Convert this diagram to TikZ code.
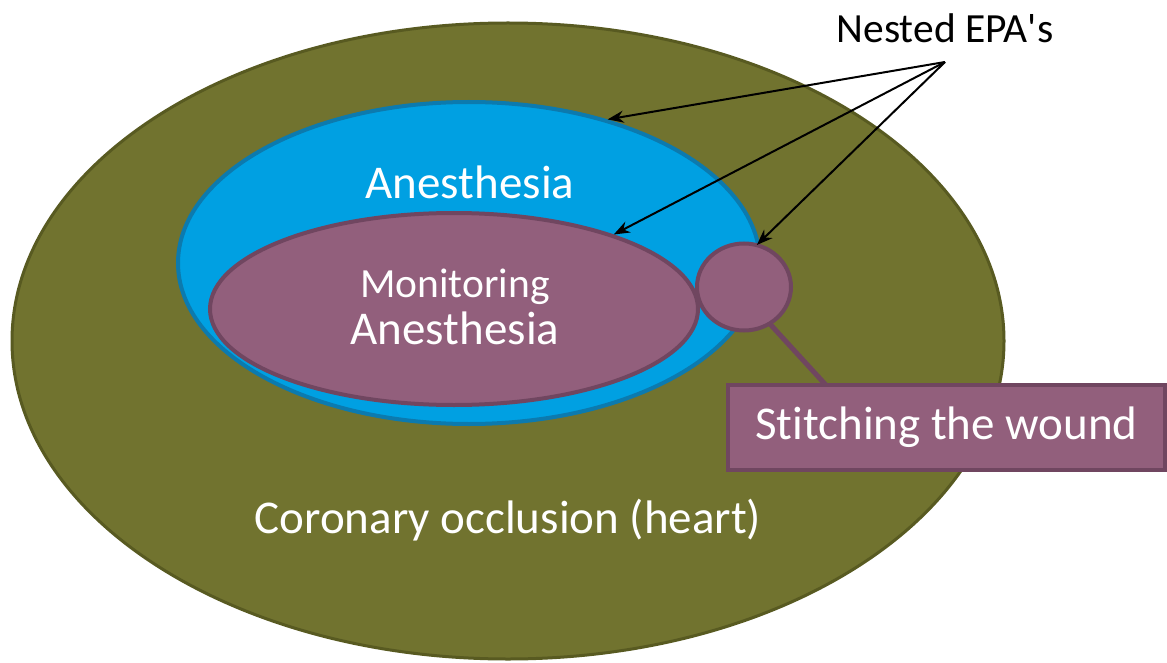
\documentclass[tikz,border=0pt]{standalone}
\usepackage{fontspec}
\setmainfont{Carlito}[Ligatures={NoCommon}]
\usetikzlibrary{shapes.geometric,arrows.meta}
\definecolor{olivefill}{RGB}{113,115,47}
\definecolor{olivedraw}{RGB}{88,90,33}
\definecolor{bluefill}{RGB}{0,160,226}
\definecolor{bluedraw}{RGB}{12,122,174}
\definecolor{plumfill}{RGB}{146,95,124}
\definecolor{plumdraw}{RGB}{112,70,96}
\tikzset{
  blob/.style={ellipse, inner sep=0pt, text=white, align=center},
  bigtext/.style={font=\fontsize{47}{50}\selectfont},
  midtext/.style={font=\fontsize{41.5}{44}\selectfont},
  pointer/.style={-{Stealth[length=16pt,width=12pt]}, line width=2pt, black},
}
\begin{document}
\begin{tikzpicture}[x=1pt,y=-1pt]
\useasboundingbox (0,0) rectangle (1167,663);
% outer ellipse
\node[blob, fill=olivefill, draw=olivedraw, line width=3pt,
      minimum width=992pt, minimum height=636pt] (outer) at (508,341) {};
\node[bigtext, text=white] (coronary) at (508,520) {Coronary occlusion (heart)};
% blue ellipse
\node[blob, fill=bluefill, draw=bluedraw, line width=4pt,
      minimum width=582pt, minimum height=322pt] (blue) at (469,263) {};
\node[bigtext, text=white] (anes) at (470,182) {Anesthesia};
% purple ellipse
\node[blob, fill=plumfill, draw=plumdraw, line width=4pt,
      minimum width=488pt, minimum height=192pt] (mon) at (454,309) {};
\node[midtext, text=white] (monit) at (455,287) {Monitoring};
\node[bigtext, text=white] (monanes) at (455,328) {Anesthesia};
% callout line (drawn below the circle and box)
\node[blob, minimum width=94pt, minimum height=87pt] (circ) at (744,287) {};
\node[rectangle, inner sep=0pt, minimum width=437pt, minimum height=85pt] (box) at (946.5,427.5) {};
\draw[plumdraw, line width=5pt] (circ.-55) -- ([xshift=107pt,yshift=-10pt]box.north west);
% small circle
\node[blob, fill=plumfill, draw=plumdraw, line width=4pt,
      minimum width=94pt, minimum height=87pt] at (744,287) {};
% box
\node[rectangle, fill=plumfill, draw=plumdraw, line width=4pt, inner sep=0pt,
      minimum width=437pt, minimum height=85pt, bigtext, text=white] at (946.5,427.5) {Stitching the wound};
% label and arrows
\node[midtext, text=black] (epa) at (945,28) {Nested EPA\textquotesingle s};
\coordinate (src) at (945,62);
\draw[pointer] (src) -- (blue.46);
\draw[pointer] (src) -- (mon.25.5);
\draw[pointer] (src) -- (circ.73);
\end{tikzpicture}
\end{document}
